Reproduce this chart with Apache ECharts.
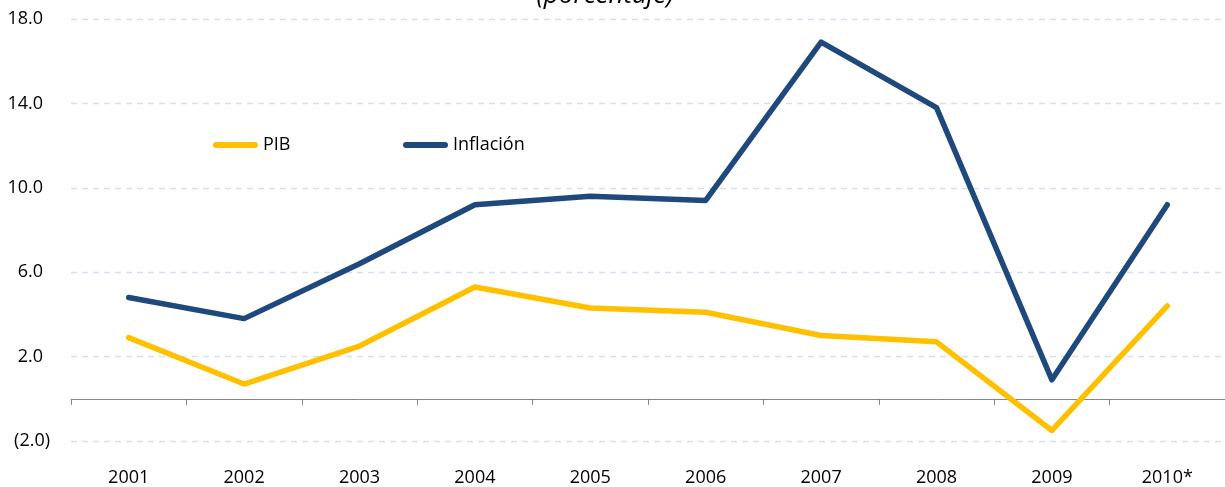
<!DOCTYPE html>
<html>
<head>
<meta charset="utf-8">
<script src="https://cdn.jsdelivr.net/npm/echarts@6/dist/echarts.min.js"></script>
<style>
html,body{margin:0;padding:0;background:#fff;}
#chart{width:1225px;height:487px;}
</style>
</head>
<body>
<div id="chart"></div>
<script>
const categories = ['2001','2002','2003','2004','2005','2006','2007','2008','2009','2010*'];
const pib = [2.9, 0.7, 2.5, 5.3, 4.3, 4.1, 3.0, 2.7, -1.5, 4.4];
const inflacion = [4.8, 3.8, 6.4, 9.2, 9.6, 9.4, 16.9, 13.8, 0.9, 9.2];
const yTicks = [-2, 2, 6, 10, 14, 18];
const titleText = '(porcentaje)';

const FONT = '"Open Sans", "Liberation Sans", sans-serif';
const chart = echarts.init(document.getElementById('chart'), null, {renderer: 'canvas'});
const pill = 'path://M3,0 L42,0 A3,3 0 0 1 42,6 L3,6 A3,3 0 0 1 3,0 Z';

chart.setOption({
  animation: false,
  backgroundColor: '#fff',
  graphic: [{
    type: 'text', x: 605, y: 9,
    style: {text: titleText, font: 'italic 26px ' + FONT, fill: '#000', align: 'center', verticalAlign: 'bottom'}
  }],
  legend: [
    {data: [{name: 'PIB', icon: pill}], left: 213, top: 136, padding: 0, itemWidth: 45, itemHeight: 6, itemGap: 5,
     textStyle: {fontFamily: FONT, fontSize: 18, color: '#000', padding: [0,0,0,0]}},
    {data: [{name: 'Inflación', icon: pill}], left: 403, top: 136, padding: 0, itemWidth: 45, itemHeight: 6, itemGap: 5,
     textStyle: {fontFamily: FONT, fontSize: 18, color: '#000', padding: [0,0,0,0]}}
  ],
  grid: {left: 71, top: 19, width: 1164, height: 424, containLabel: false},
  xAxis: [
    {type: 'category', data: categories, position: 'bottom', boundaryGap: true,
     axisLine: {show: false, onZero: false}, axisTick: {show: false},
     axisLabel: {fontFamily: FONT, fontSize: 18, color: '#000', margin: 28}},
    {type: 'category', data: categories, position: 'bottom', boundaryGap: true,
     axisLine: {show: true, onZero: true, onZeroAxisIndex: 0, lineStyle: {color: '#868686', width: 1}},
     axisTick: {show: true, length: 6, inside: false, lineStyle: {color: '#868686'}},
     axisLabel: {show: false}}
  ],
  yAxis: {
    type: 'value', min: -2, max: 18, interval: 4,
    axisLine: {show: false}, axisTick: {show: false},
    splitLine: {show: true, lineStyle: {color: '#D6DFEF', type: [6, 5], width: 1.3}},
    axisLabel: {
      margin: 21, fontFamily: FONT, fontSize: 18, color: '#000',
      formatter: function (v) {
        return v < 0 ? '{n|(' + Math.abs(v).toFixed(1) + ')}' : '{p|' + v.toFixed(1) + '}';
      },
      rich: {
        n: {fontFamily: FONT, fontSize: 18, color: '#000'},
        p: {fontFamily: FONT, fontSize: 18, color: '#000', padding: [0, 7, 0, 0]}
      }
    }
  },
  series: [
    {name: 'PIB', type: 'line', data: pib, xAxisIndex: 0, symbol: 'none',
     lineStyle: {color: '#FFC000', width: 5.5, cap: 'round', join: 'round'}, itemStyle: {color: '#FFC000'}},
    {name: 'Inflación', type: 'line', data: inflacion, xAxisIndex: 0, symbol: 'none',
     lineStyle: {color: '#1F497D', width: 5.5, cap: 'round', join: 'round'}, itemStyle: {color: '#1F497D'}}
  ]
});
</script>
</body>
</html>
